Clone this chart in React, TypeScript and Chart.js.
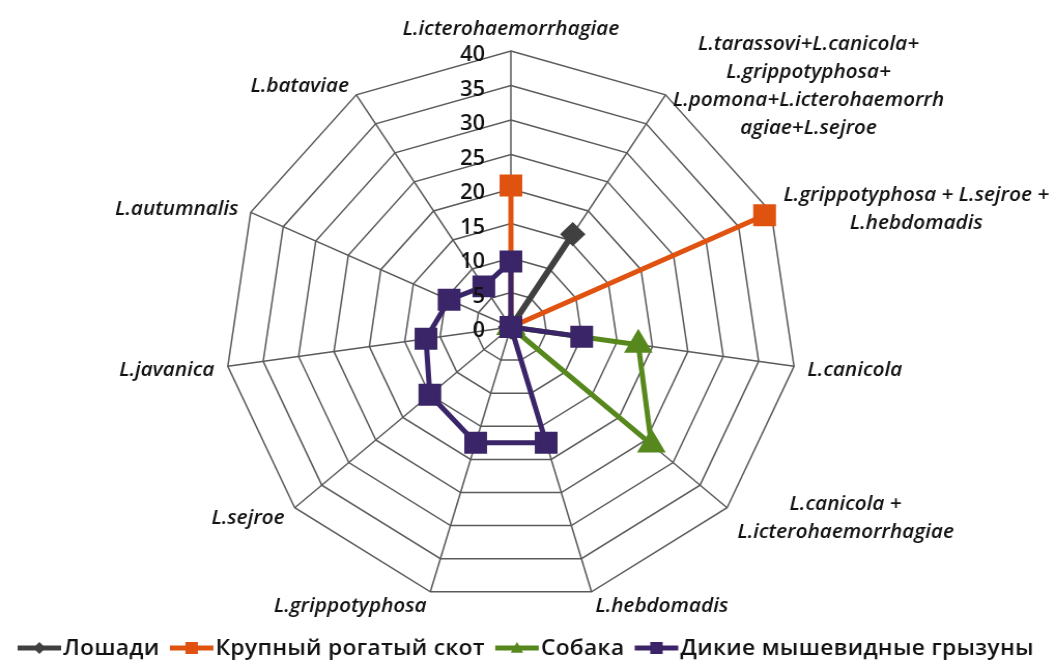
import React, { useEffect, useRef } from "react";
import { Chart, registerables } from "chart.js";

Chart.register(...registerables);

// Serotype axes, clockwise from the top
const serotypes: (string | string[])[] = [
  "L.icterohaemorrhagiae",
  ["L.tarassovi+L.canicola+", "L.grippotyphosa+", "L.pomona+L.icterohaemorrh", "agiae+L.sejroe"],
  ["L.grippotyphosa + L.sejroe +", "L.hebdomadis"],
  "L.canicola",
  ["L.canicola +", "L.icterohaemorrhagiae"],
  "L.hebdomadis",
  "L.grippotyphosa",
  "L.sejroe",
  "L.javanica",
  "L.autumnalis",
  "L.bataviae",
];

const horses = [0, 16, 0, 0, 0, 0, 0, 0, 0, 0, 0];
const cattle = [20.5, 0, 39, 0, 0, 0, 0, 0, 0, 0, 0];
const dogs = [0, 0, 0, 18, 26, 0, 0, 0, 0, 0, 0];
const rodents = [9.5, 0, 0, 10, 0, 17.5, 17.5, 15, 12, 9.5, 7];

const seriesNames = ["Лошади", "Крупный рогатый скот", "Собака", "Дикие мышевидные грызуны"];
const seriesColors = ["#404040", "#E0520F", "#57881E", "#3A2568"];
const seriesMarkers = ["rectRot", "rect", "triangle", "rect"];

const tickValues = [0, 5, 10, 15, 20, 25, 30, 35, 40];

const GRID = "#5a5a5a";
const TEXT = "#111111";

function drawMarker(ctx: CanvasRenderingContext2D, style: string, x: number, y: number, r: number) {
  ctx.beginPath();
  if (style === "rect") {
    ctx.rect(x - r, y - r, 2 * r, 2 * r);
  } else if (style === "rectRot") {
    ctx.moveTo(x, y - r);
    ctx.lineTo(x + r, y);
    ctx.lineTo(x, y + r);
    ctx.lineTo(x - r, y);
    ctx.closePath();
  } else {
    ctx.moveTo(x, y - r);
    ctx.lineTo(x + r, y + r * 0.8);
    ctx.lineTo(x - r, y + r * 0.8);
    ctx.closePath();
  }
  ctx.fill();
}

const axisLabelsPlugin = {
  id: "axisLabels",
  afterDraw(chart: any) {
    const scale = chart.scales.r;
    const ctx: CanvasRenderingContext2D = chart.ctx;
    ctx.save();
    ctx.fillStyle = TEXT;

    // value ticks, left of the vertical axis
    ctx.font = "600 21px 'Open Sans'";
    ctx.textAlign = "right";
    ctx.textBaseline = "middle";
    for (const v of tickValues) {
      const d = scale.getDistanceFromCenterForValue(v);
      ctx.fillText(String(v), scale.xCenter - 25, scale.yCenter - d + 4.5);
    }

    // serotype names around the web
    ctx.font = "italic 600 20px 'Open Sans'";
    ctx.textAlign = "center";
    const n = serotypes.length;
    const lineH = 28;
    serotypes.forEach((label, i) => {
      const lines = Array.isArray(label) ? label : [label];
      const p = scale.getPointPosition(i, scale.drawingArea + 13);
      const ang = (2 * Math.PI * i) / n;
      const s = Math.sin(ang);
      const c = Math.cos(ang);
      const blockW = Math.max(...lines.map((l) => ctx.measureText(l).width));
      let cx = p.x;
      if (s > 0.05) cx = p.x + blockW / 2;
      else if (s < -0.05) cx = p.x - blockW / 2;
      const midY = Math.abs(s) < 0.05 && c > 0 ? p.y - 9 : p.y + 2;
      const top = midY - ((lines.length - 1) * lineH) / 2;
      lines.forEach((l, k) => ctx.fillText(l, cx, top + k * lineH));
    });
    ctx.restore();
  },
};

const legendPlugin = {
  id: "seriesLegend",
  afterDraw(chart: any) {
    const ctx: any = chart.ctx;
    ctx.save();
    ctx.font = "600 22px 'Open Sans'";
    ctx.letterSpacing = "0.3px";
    ctx.textBaseline = "middle";
    ctx.textAlign = "left";
    let x = 17;
    const y = 648;
    seriesNames.forEach((name, i) => {
      ctx.strokeStyle = seriesColors[i];
      ctx.fillStyle = seriesColors[i];
      ctx.lineWidth = 5;
      ctx.beginPath();
      ctx.moveTo(x, y);
      ctx.lineTo(x + 42, y);
      ctx.stroke();
      drawMarker(ctx, seriesMarkers[i], x + 21, y, 6);
      x += 44;
      ctx.fillStyle = TEXT;
      ctx.fillText(name, x, y + 1);
      x += ctx.measureText(name).width + 10;
    });
    ctx.restore();
  },
};

export default function App() {
  const ref = useRef<HTMLCanvasElement>(null);

  useEffect(() => {
    const canvas = ref.current!;
    const values = [horses, cattle, dogs, rodents];
    const radii = [8, 12, 11, 12];
    const widths = [6, 5, 5, 5];
    const chart = new Chart(canvas, {
      type: "radar",
      data: {
        labels: serotypes,
        datasets: seriesNames.map((name, i) => ({
          label: name,
          data: values[i],
          borderColor: seriesColors[i],
          backgroundColor: seriesColors[i],
          pointBackgroundColor: seriesColors[i],
          pointBorderColor: seriesColors[i],
          borderWidth: widths[i],
          borderJoinStyle: "round" as const,
          pointStyle: seriesMarkers[i] as any,
          pointRadius: radii[i],
          fill: false,
          order: 3 - i,
        })),
      },
      options: {
        responsive: false,
        animation: false,
        events: [],
        layout: { padding: { top: 51, bottom: 58, left: 0, right: 33 } },
        plugins: {
          legend: { display: false },
          tooltip: { enabled: false },
        },
        elements: { line: { tension: 0 } },
        scales: {
          r: {
            min: 0,
            max: 40,
            ticks: { display: false, stepSize: 5 },
            pointLabels: { display: false },
            grid: { color: GRID, lineWidth: 1.5 },
            angleLines: { color: GRID, lineWidth: 1.5 },
          },
        },
      },
      plugins: [axisLabelsPlugin, legendPlugin],
    });
    return () => chart.destroy();
  }, []);

  return (
    <div style={{ position: "fixed", left: 0, top: 0, width: 1056, height: 661, background: "#fff" }}>
      <canvas ref={ref} width={1019} height={661} style={{ width: "1056px", height: "661px", display: "block" }} />
    </div>
  );
}
